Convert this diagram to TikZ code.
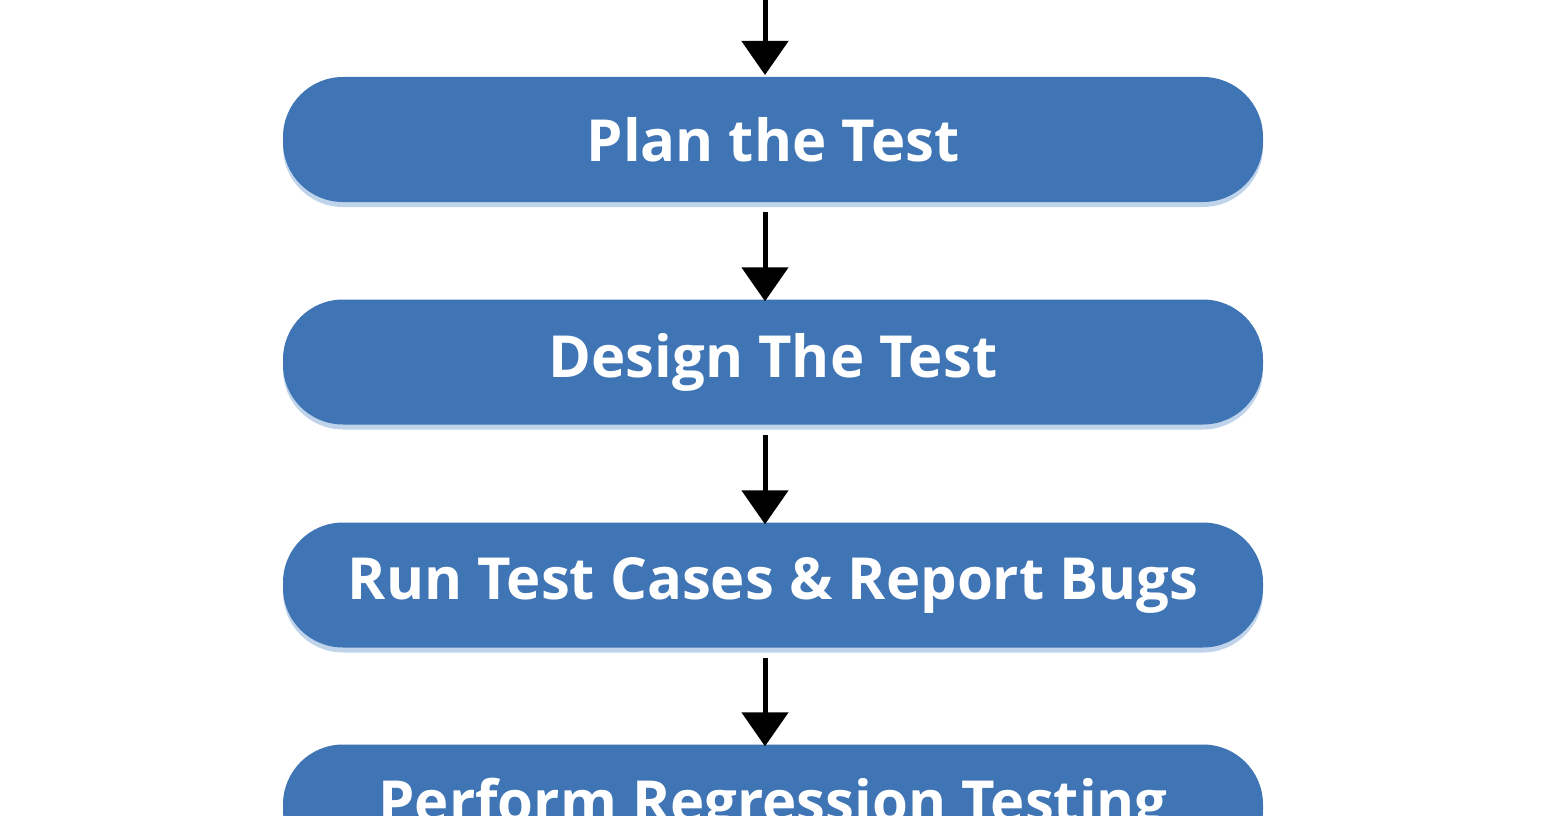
\documentclass[tikz,border=0pt]{standalone}
\usepackage{fontspec}
\setmainfont{Open Sans}
\usetikzlibrary{arrows.meta}
\definecolor{boxblue}{HTML}{3F74B5}
\definecolor{shadowblue}{HTML}{BFD4EA}
\begin{document}
\begin{tikzpicture}[x=1pt,y=-1pt,
  stepbox/.style={fill=boxblue,rounded corners=60pt,minimum width=980pt,minimum height=125pt,
    text=white,font=\fontsize{58}{64}\selectfont\bfseries,inner sep=0pt,
    preaction={fill=shadowblue,transform canvas={yshift=-5pt}}},
  arr/.style={line width=5pt,-{Triangle[width=46pt,length=34pt]}}]
\path[use as bounding box] (0,0) rectangle (1551,816);
\clip (0,0) rectangle (1551,816);
\fill[white] (0,0) rectangle (1551,816);
\coordinate (top) at (765,-5);
\node[stepbox] (b1) at (773,139.5) {Plan the Test};
\node[stepbox] (b2) at (773,362) {Design The Test};
\node[stepbox] (b3) at (773,585) {Run Test Cases \& Report Bugs};
\node[stepbox] (b4) at (773,807) {Perform Regression Testing};
\draw[arr] (top) -- (765,75);
\draw[arr] ([xshift=-8pt,yshift=-10pt]b1.south) -- ([xshift=-8pt,yshift=-2pt]b2.north);
\draw[arr] ([xshift=-8pt,yshift=-10pt]b2.south) -- ([xshift=-8pt,yshift=-2pt]b3.north);
\draw[arr] ([xshift=-8pt,yshift=-10pt]b3.south) -- ([xshift=-8pt,yshift=-2pt]b4.north);
\end{tikzpicture}
\end{document}
